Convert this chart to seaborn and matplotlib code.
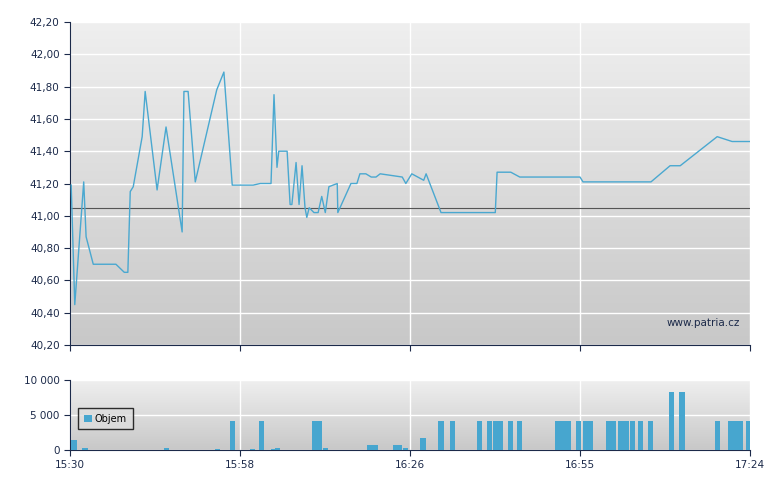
import numpy as np
import matplotlib
matplotlib.use("Agg")
import matplotlib.pyplot as plt
import seaborn as sns

# price line (minutes after 15:30, price)
price_min = [0.2, 0.8, 2.3, 2.7, 3.9, 7.7, 9.1, 9.7, 10.1, 10.6, 12.1, 12.6, 14.6, 16.1, 18.8,
             19.1, 19.8, 21.0, 24.6, 25.8, 27.2, 30.7, 31.9, 33.7, 34.2, 34.7, 35.0, 36.4, 36.9,
             37.2, 37.9, 38.4, 38.9, 39.4, 39.7, 40.1, 40.9, 41.6, 42.2, 42.8, 43.4, 44.8, 44.9,
             47.1, 48.1, 48.6, 49.6, 50.5, 51.3, 52.0, 55.7, 56.3, 57.3, 59.3, 59.7, 62.2, 71.3,
             71.6, 73.9, 75.4, 85.5, 86.0, 97.4, 100.6, 102.3, 108.5, 111.0, 114.0]
price_val = [41.19, 40.45, 41.21, 40.87, 40.70, 40.70, 40.65, 40.65, 41.15, 41.18, 41.49, 41.77,
             41.16, 41.55, 40.90, 41.77, 41.77, 41.21, 41.78, 41.89, 41.19, 41.19, 41.20, 41.20,
             41.75, 41.30, 41.40, 41.40, 41.07, 41.07, 41.33, 41.07, 41.31, 41.05, 40.99, 41.05,
             41.02, 41.02, 41.12, 41.02, 41.18, 41.20, 41.02, 41.20, 41.20, 41.26, 41.26, 41.24,
             41.24, 41.26, 41.24, 41.20, 41.26, 41.22, 41.26, 41.02, 41.02, 41.27, 41.27, 41.24,
             41.24, 41.21, 41.21, 41.31, 41.31, 41.49, 41.46, 41.46]
ref_price = 41.05

vol_min = [0.7, 2.5, 16.2, 24.7, 27.2, 30.6, 32.1, 34.2, 34.8, 41.0, 41.8, 42.8, 50.3, 51.2,
           54.6, 55.2, 56.2, 59.2, 62.2, 64.1, 68.6, 70.3, 71.3, 72.1, 73.8, 75.4, 81.7, 82.6,
           83.5, 85.2, 86.4, 87.3, 90.3, 91.1, 92.3, 93.2, 94.3, 95.6, 97.3, 100.8, 102.6, 108.5,
           110.7, 111.4, 112.3, 113.8]
vol_val = [1450, 250, 250, 100, 4200, 100, 4200, 100, 250, 4200, 4200, 250, 700, 700,
           700, 700, 250, 1700, 4200, 4200, 4200, 4200, 4200, 4200, 4200, 4200, 4200, 4200,
           4200, 4200, 4200, 4200, 4200, 4200, 4200, 4200, 4200, 4200, 4200, 8350, 8350, 4200,
           4200, 4200, 4200, 4200]

xtick_pos = [0, 28.5, 57, 85.5, 114]
xtick_lab = ["15:30", "15:58", "16:26", "16:55", "17:24"]

navy = "#1c2a4a"
line_c = "#4aa8d0"

fig = plt.figure(figsize=(7.8, 4.9), dpi=100)
ax1 = fig.add_axes([70/780, 145/490, 680/780, 323/490])
ax2 = fig.add_axes([70/780, 40/490, 680/780, 70/490])

grad = np.linspace(0, 1, 256).reshape(-1, 1)
gray_cmap = matplotlib.colors.LinearSegmentedColormap.from_list("g", ["#efefef", "#c8c8c8"])

def style(ax, ylim):
    ax.imshow(grad, cmap=gray_cmap, aspect="auto", extent=[0, 114, ylim[0], ylim[1]], zorder=0)
    ax.set_xlim(0, 114)
    ax.set_ylim(*ylim)
    ax.grid(True, color="white", lw=1, zorder=1)
    ax.set_axisbelow(True)
    for s in ["top", "right"]:
        ax.spines[s].set_visible(False)
    for s in ["left", "bottom"]:
        ax.spines[s].set_color(navy)
    ax.tick_params(colors=navy, labelsize=7.5, length=4, direction="out")
    ax.set_xticks(xtick_pos)
    ax.set_xlabel("")
    ax.set_ylabel("")

sns.lineplot(x=price_min, y=price_val, ax=ax1, color=line_c, lw=1, zorder=3)
ax1.axhline(ref_price, color="#555555", lw=0.8, zorder=2)
style(ax1, (40.2, 42.2))
ax1.set_yticks(np.arange(40.2, 42.21, 0.2))
ax1.set_yticklabels([f"{v:.2f}".replace(".", ",") for v in np.arange(40.2, 42.21, 0.2)])
ax1.set_xticklabels([])
ax1.text(0.985, 0.06, "www.patria.cz", transform=ax1.transAxes, ha="right", fontsize=7.5, color=navy)

ax2.bar(vol_min, vol_val, width=0.9, color="#47a6cf", zorder=3, label="Objem")
style(ax2, (0, 10000))
ax2.set_yticks([0, 5000, 10000])
ax2.set_yticklabels(["0", "5 000", "10 000"])
ax2.set_xticklabels(xtick_lab)
leg = ax2.legend(loc="center left", bbox_to_anchor=(0.005, 0.45), fontsize=7, frameon=True,
                 fancybox=False, handlelength=0.8, handletextpad=0.3, borderpad=0.6)
leg.get_frame().set_edgecolor("black")
leg.get_frame().set_facecolor("#dddddd")

fig.savefig("out.png", dpi=100)
